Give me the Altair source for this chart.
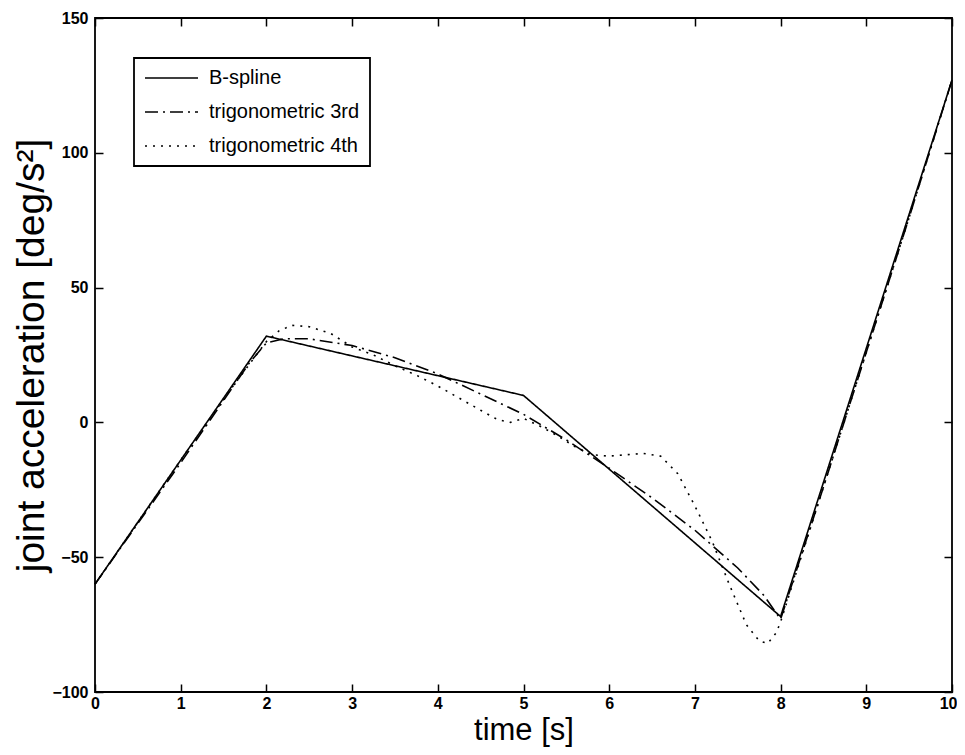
import altair as alt
import pandas as pd

# B-spline (piecewise linear acceleration)
bs_t = [0, 2, 5, 8, 10]
bs_a = [-60, 32, 10, -72, 127]

# trigonometric 3rd order
t3_t = [0, 1, 1.8, 2, 2.2, 2.5, 3, 3.5, 4, 4.5, 5, 5.5, 6, 6.5, 7, 7.5, 7.8, 8, 8.5, 9, 9.5, 10]
t3_a = [-60, -15, 22, 29.5, 31, 31, 28.5, 24, 18, 10.5, 3, -6.5, -17, -28, -40, -54, -64, -73, -24, 26, 76, 127]

# trigonometric 4th order
t4_t = [0, 1, 1.6, 2, 2.15, 2.3, 2.5, 2.75, 3, 3.25, 3.5, 3.75, 4, 4.25, 4.5, 4.7, 4.85, 5,
        5.2, 5.4, 5.6, 5.8, 6, 6.2, 6.4, 6.6, 6.8, 7, 7.2, 7.4, 7.6, 7.75, 7.85, 7.95, 8,
        8.5, 9, 9.5, 10]
t4_a = [-60, -14, 13, 30, 34, 36, 35.5, 33, 28, 25, 21, 17.5, 13.5, 9, 4.5, 1, 0, 1.5,
        -1.5, -5, -9, -12, -12.5, -12, -11.5, -12.5, -19, -31, -44, -60, -75, -81, -82, -78, -74,
        -24, 26, 76, 127]

series_names = ["B-spline", "trigonometric 3rd", "trigonometric 4th"]

rows = []
for name, ts, vs in zip(series_names, [bs_t, t3_t, t4_t], [bs_a, t3_a, t4_a]):
    for t, v in zip(ts, vs):
        rows.append({"series": name, "time": t, "acc": v})
df = pd.DataFrame(rows)

FONT = "Liberation Sans"
x_scale = alt.Scale(domain=[0, 10], nice=False, zero=False)
y_scale = alt.Scale(domain=[-100, 150], nice=False, zero=False)
x_vals = list(range(0, 11))
y_vals = [-100, -50, 0, 50, 100, 150]

common_axis = dict(tickSize=8, offset=-8, domain=False, grid=False, tickColor="black",
                   tickWidth=1.5, labelFlush=False, labelOverlap=False)

lines = alt.Chart(df).mark_line(color="black", strokeWidth=1.6).encode(
    x=alt.X("time:Q", scale=x_scale,
            axis=alt.Axis(orient="bottom", values=x_vals, title="time [s]",
                          labelPadding=3, titlePadding=4, titleFontSize=31,
                          labelAlign=alt.ConditionalAxisLabelAlign(
                              condition={"test": "datum.value == 10", "value": "right"},
                              value="center"),
                          labelOffset=alt.ConditionalAxisNumber(
                              condition={"test": "datum.value == 10", "value": 5},
                              value=0),
                          **common_axis)),
    y=alt.Y("acc:Q", scale=y_scale,
            axis=alt.Axis(orient="left", values=y_vals, title="joint acceleration [deg/s²]",
                          labelPadding=7, titlePadding=0, titleFontSize=39,
                          **common_axis)),
    strokeDash=alt.StrokeDash(
        "series:N",
        scale=alt.Scale(domain=series_names, range=[[1, 0], [13, 5, 2, 5], [2, 6]]),
        legend=alt.Legend(title=None, orient="none", legendX=39, legendY=40,
                          strokeColor="black", fillColor="white", padding=10,
                          symbolType="stroke", symbolSize=2809, symbolStrokeWidth=1.6,
                          symbolStrokeColor="black", labelFont=FONT, labelFontSize=20,
                          labelColor="black", labelOffset=10, clipHeight=20,
                          rowPadding=14),
    ),
)

mirror = alt.Chart(df).mark_line(opacity=0).encode(
    x=alt.X("time:Q", scale=x_scale,
            axis=alt.Axis(orient="top", values=x_vals, title=None, labels=False,
                          **common_axis)),
    y=alt.Y("acc:Q", scale=y_scale,
            axis=alt.Axis(orient="right", values=y_vals, title=None, labels=False,
                          **common_axis)),
    detail="series:N",
)

chart = alt.layer(lines, mirror).properties(
    width=857, height=674,
    autosize=alt.AutoSizeParams(type="none"),
    padding={"left": 87, "top": 10, "right": 5, "bottom": 55},
).configure_view(
    stroke="black", strokeWidth=1.8
).configure_axis(
    labelFont=FONT, labelFontSize=16, labelFontWeight="bold", labelColor="black",
    titleFont=FONT, titleFontWeight="normal", titleColor="black",
).configure_legend(
    strokeWidth=1.8
)

chart.save("out.html", embed_options={"renderer": "svg", "actions": False})
